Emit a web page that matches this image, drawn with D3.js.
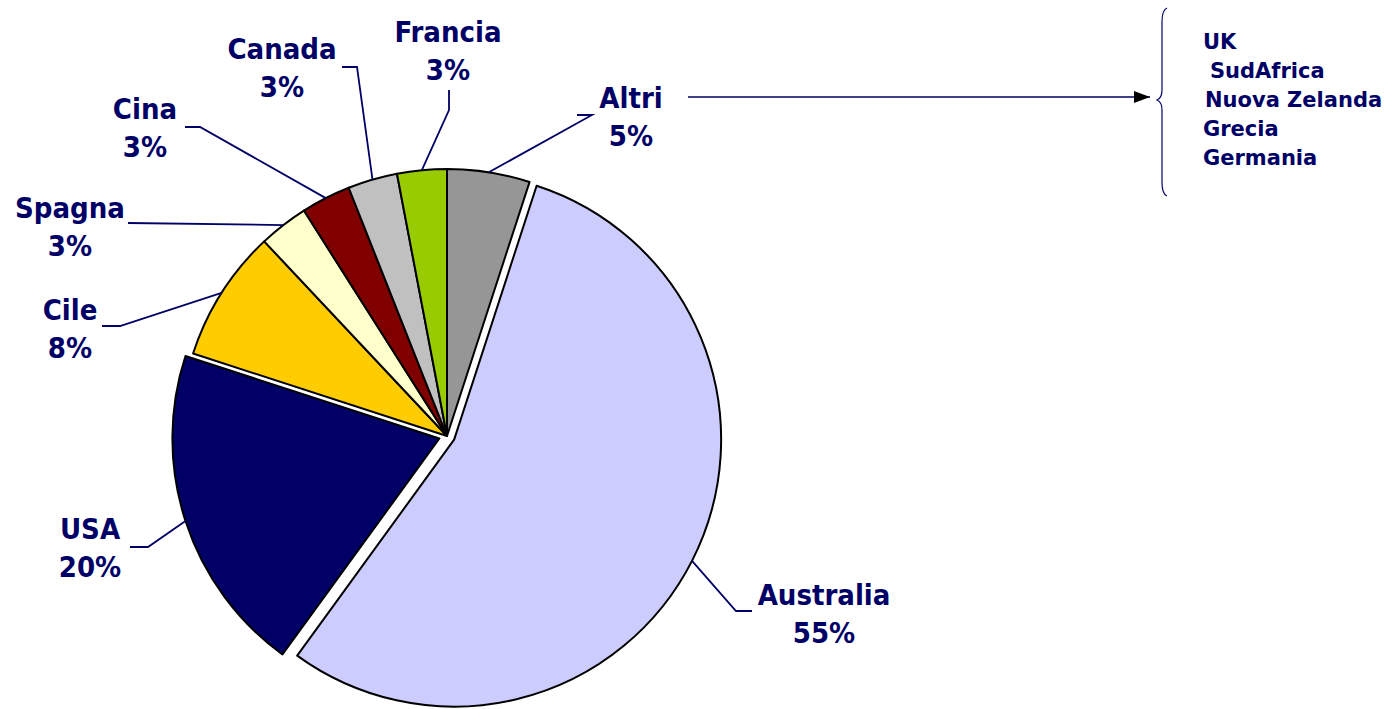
<!DOCTYPE html>
<html lang="it">
<head>
<meta charset="UTF-8">
<title>Pie chart</title>
<script src="https://d3js.org/d3.v7.min.js"></script>
<style>
  body { margin: 0; background: #fff; }
  text { font-family: "DejaVu Sans Condensed", "DejaVu Sans", sans-serif; font-weight: bold; fill: #000066; }
</style>
</head>
<body>
<svg id="chart"></svg>
<script>
// data
const categories = ["Altri", "Australia", "USA", "Cile", "Spagna", "Cina", "Canada", "Francia"];
const values = [5, 55, 20, 8, 3, 3, 3, 3];
const colors = ["#969696", "#CCCCFF", "#000066", "#FFCC00", "#FFFFCC", "#800000", "#C0C0C0", "#99CC00"];
const altriList = ["UK", "SudAfrica", "Nuova Zelanda", "Grecia", "Germania"];

// layout
const width = 1387, height = 709;
const cx = 447, cy = 436, radius = 267;
const explode = [0, 8, 8, 0, 0, 0, 0, 0];
// label anchor (center x, baseline of first line) and leader elbow/tail
const labelPos = [[631, 108], [824, 605], [90, 539], [70, 320], [70, 218], [145, 119], [282, 59], [448, 42]];
const elbows = [[592, 115, 577], [736, 611, 752], [148, 547, 130], [120, 326, 102], [128, 223, 128], [200, 127, 185], [357, 67, 342], [449, 110, 449]];

const svg = d3.select("#chart").attr("width", width).attr("height", height);
const g = svg.append("g").attr("transform", `translate(${cx},${cy})`);

const pie = d3.pie().sort(null).value(d => d)(values);
const arc = d3.arc().innerRadius(0).outerRadius(radius);
const edge = d3.arc().innerRadius(radius).outerRadius(radius);

function shift(d, i) {
  const a = (d.startAngle + d.endAngle) / 2;
  return [Math.sin(a) * explode[i], -Math.cos(a) * explode[i]];
}

g.selectAll("path.slice")
  .data(pie)
  .join("path")
  .attr("class", "slice")
  .attr("d", arc)
  .attr("transform", (d, i) => `translate(${shift(d, i)})`)
  .attr("fill", (d, i) => colors[i])
  .attr("stroke", "#000")
  .attr("stroke-width", 2)
  .attr("stroke-linejoin", "round");

// leader lines
const line = d3.line();
svg.selectAll("path.leader")
  .data(pie)
  .join("path")
  .attr("class", "leader")
  .attr("d", (d, i) => {
    const c = edge.centroid(d), s = shift(d, i);
    const e = elbows[i];
    return line([[cx + c[0] + s[0], cy + c[1] + s[1]], [e[0], e[1]], [e[2], i === 7 ? 90 : e[1]]]);
  })
  .attr("fill", "none")
  .attr("stroke", "#000066")
  .attr("stroke-width", 1.8);

// labels
const labels = svg.selectAll("text.lbl")
  .data(pie)
  .join("text")
  .attr("class", "lbl")
  .attr("text-anchor", "middle")
  .attr("font-size", 29);
labels.append("tspan").attr("x", (d, i) => labelPos[i][0]).attr("y", (d, i) => labelPos[i][1])
  .text((d, i) => categories[i]);
labels.append("tspan").attr("x", (d, i) => labelPos[i][0]).attr("y", (d, i) => labelPos[i][1] + 38)
  .text((d, i) => values[i] + "%");

// arrow from "Altri" to the list
svg.append("defs").append("marker")
  .attr("id", "arrow").attr("viewBox", "0 0 10 10").attr("refX", 10).attr("refY", 5)
  .attr("markerWidth", 16).attr("markerHeight", 12).attr("markerUnits", "userSpaceOnUse")
  .attr("orient", "auto").attr("preserveAspectRatio", "none")
  .append("path").attr("d", "M0,0L10,5L0,10Z").attr("fill", "#000");
svg.append("line")
  .attr("x1", 688).attr("y1", 97).attr("x2", 1150).attr("y2", 97)
  .attr("stroke", "#000066").attr("stroke-width", 1.6)
  .attr("marker-end", "url(#arrow)");

// brace
svg.append("path")
  .attr("d", "M1167,8 Q1162,10 1162,22 L1162,90 Q1162,98 1157,100 Q1162,102 1162,110 L1162,182 Q1162,194 1167,196")
  .attr("fill", "none").attr("stroke", "#000066").attr("stroke-width", 1.2);

const listX = [1203, 1210, 1205, 1203, 1203];
svg.selectAll("text.altri")
  .data(altriList)
  .join("text")
  .attr("class", "altri")
  .attr("x", (d, i) => listX[i])
  .attr("y", (d, i) => 49 + i * 29)
  .attr("font-size", 21)
  .style("font-family", "'DejaVu Sans', sans-serif")
  .text(d => d);
</script>
</body>
</html>
